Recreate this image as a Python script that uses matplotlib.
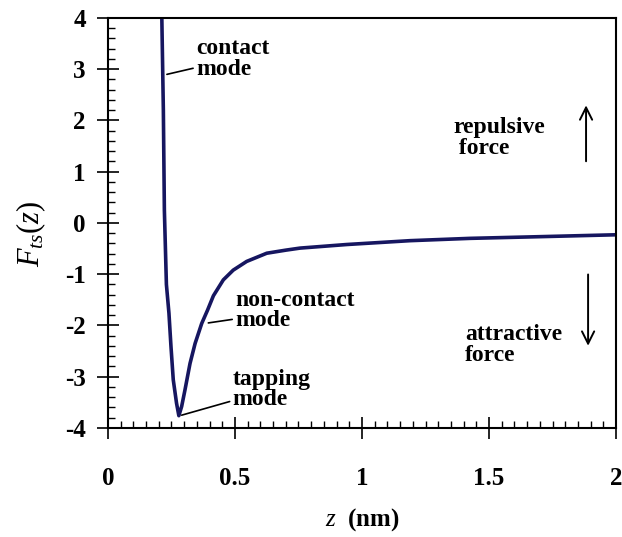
import matplotlib
matplotlib.use('Agg')
from matplotlib import pyplot as plt
from matplotlib.ticker import MultipleLocator

# curve
z = [0.212, 0.218, 0.222, 0.230, 0.240, 0.248, 0.257, 0.270, 0.279, 0.290,
     0.303, 0.323, 0.343, 0.369, 0.392, 0.415, 0.454, 0.493, 0.546, 0.625,
     0.700, 0.756, 0.940, 1.189, 1.425, 1.675, 2.0]
F = [4.0, 2.2, 0.25, -1.2, -1.76, -2.41, -3.06, -3.52, -3.76, -3.58,
     -3.26, -2.74, -2.35, -1.96, -1.70, -1.42, -1.11, -0.92, -0.75, -0.59,
     -0.53, -0.49, -0.42, -0.345, -0.30, -0.27, -0.23]

xticks = [0, 0.5, 1, 1.5, 2]
xticklabels = ['0', '0.5', '1', '1.5', '2']
yticks = [-4, -3, -2, -1, 0, 1, 2, 3, 4]

plt.rcParams['font.family'] = 'Liberation Serif'
plt.rcParams['font.weight'] = 'bold'
plt.rcParams['axes.unicode_minus'] = False
plt.rcParams['mathtext.fontset'] = 'custom'
plt.rcParams['mathtext.rm'] = 'Liberation Serif:weight=normal'
plt.rcParams['mathtext.it'] = 'Liberation Serif:italic:weight=normal'

fig = plt.figure(figsize=(6.22, 5.37), dpi=100)
ax = fig.add_axes([0.1736, 0.203, 0.8168, 0.7635])

ax.plot(z, F, color='#161660', lw=2.6, solid_joinstyle='round')

ax.set_xlim(0, 2)
ax.set_ylim(-4, 4)
ax.set_xticks(xticks)
ax.set_xticklabels(xticklabels)
ax.set_yticks(yticks)
ax.xaxis.set_minor_locator(MultipleLocator(0.05))
ax.yaxis.set_minor_locator(MultipleLocator(0.2))
ax.tick_params(which='major', direction='inout', length=16, width=1.2,
               labelsize=18, top=False, right=False)
ax.tick_params(axis='x', which='major', pad=20)
ax.tick_params(axis='y', which='major', pad=8)
ax.tick_params(which='minor', direction='in', length=5, width=1,
               top=False, right=False)
for s in ax.spines.values():
    s.set_linewidth(1.5)

ax.set_xlabel(r'$z$  (nm)', fontsize=18, fontweight='bold', labelpad=12)
ax.set_ylabel(r'$F_{ts}(z)$', fontsize=22, labelpad=12, y=0.475)

kw = dict(fontsize=17, fontweight='bold', va='top', ha='left', linespacing=0.95)
arw = dict(arrowstyle='-', color='black', lw=1.2, shrinkA=0, shrinkB=0)
ax.annotate('contact\nmode', xy=(0.232, 2.9), xytext=(0.346, 3.6),
            arrowprops=arw, **kw)
ax.annotate('non-contact\nmode', xy=(0.395, -1.95), xytext=(0.50, -1.3),
            arrowprops=arw, **kw)
ax.annotate('tapping\nmode', xy=(0.29, -3.75), xytext=(0.49, -2.85),
            arrowprops=arw, **kw)
ax.text(1.358, 2.06, 'repulsive\n force', **kw)
ax.text(1.405, -1.98, 'attractive\nforce', **kw)
ax.annotate('', xy=(1.882, 2.35), xytext=(1.882, 1.15),
            arrowprops=dict(arrowstyle='->', color='black', lw=1.4,
                            mutation_scale=22))
ax.annotate('', xy=(1.89, -2.45), xytext=(1.89, -0.95),
            arrowprops=dict(arrowstyle='->', color='black', lw=1.4,
                            mutation_scale=22))

fig.savefig('out.png', dpi=100)
